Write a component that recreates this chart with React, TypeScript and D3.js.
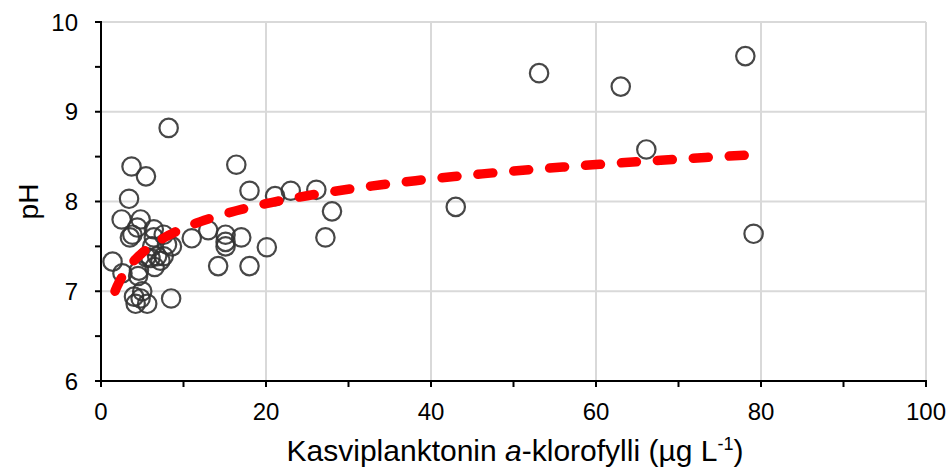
import React, { useRef, useEffect } from "react";
import * as d3 from "d3";

// chlorophyll a (µg/L) and pH
const chlA = [
  1.4, 2.5, 2.6, 3.4, 3.5, 3.7, 3.8, 4.4, 4.8, 4.6, 4.5, 5.45, 5.0, 4.0, 4.8,
  4.2, 5.6, 5.5, 6.0, 6.2, 6.4, 6.4, 6.5, 6.8, 7.2, 7.6, 7.6, 8.0, 8.2, 8.5,
  8.6, 11.0, 13.0, 14.2, 15.1, 15.1, 15.1, 16.4, 17.0, 18.0, 18.0, 20.1, 21.1,
  23.0, 26.1, 27.2, 28.0, 43.0, 53.1, 63.0, 66.1, 78.1, 79.1,
];
const pH = [
  7.33, 7.8, 7.2, 8.03, 7.6, 8.39, 7.63, 7.71, 7.8, 7.23, 7.17, 8.28, 7.0, 6.94,
  6.92, 6.86, 6.86, 7.38, 7.37, 7.5, 7.69, 7.6, 7.27, 7.39, 7.34, 7.39, 7.63,
  7.52, 8.82, 6.92, 7.5, 7.59, 7.68, 7.28, 7.63, 7.55, 7.5, 8.41, 7.6, 8.12,
  7.28, 7.49, 8.06, 8.12, 8.13, 7.6, 7.89, 7.94, 9.43, 9.28, 8.58, 9.62, 7.64,
];

// logarithmic trendline y = a ln(x) + b, drawn between these x values
const trendA = 0.396;
const trendB = 6.79;
const trendFrom = 1.7;
const trendTo = 79.1;

const xTicks = [0, 20, 40, 60, 80, 100];
const xMinor = [0, 10, 20, 30, 40, 50, 60, 70, 80, 90, 100];
const yTicks = [6, 7, 8, 9, 10];
const yMinor = [6, 6.5, 7, 7.5, 8, 8.5, 9, 9.5, 10];

const W = 949;
const H = 468;
const FONT = "'Liberation Sans', Arial, sans-serif";

const App: React.FC = () => {
  const svgRef = useRef<SVGSVGElement>(null);

  useEffect(() => {
    if (!svgRef.current) return;
    const svg = d3.select(svgRef.current);
    svg.selectAll("*").remove();

    const x = d3.scaleLinear().domain([0, 100]).range([101, 926]);
    const y = d3.scaleLinear().domain([6, 10]).range([381, 22]);

    // gridlines
    svg.append("g")
      .selectAll("line")
      .data(yTicks.filter((d) => d > 6))
      .join("line")
      .attr("x1", x(0))
      .attr("x2", x(100))
      .attr("y1", (d) => y(d))
      .attr("y2", (d) => y(d))
      .attr("stroke", "#d9d9d9")
      .attr("stroke-width", 2);

    svg.append("g")
      .selectAll("line")
      .data(xTicks.filter((d) => d > 0))
      .join("line")
      .attr("x1", (d) => x(d))
      .attr("x2", (d) => x(d))
      .attr("y1", y(6))
      .attr("y2", y(10))
      .attr("stroke", "#d9d9d9")
      .attr("stroke-width", 2);

    // axes
    const axisY = svg.append("g").attr("transform", `translate(${x(0)},0)`);
    axisY.append("line")
      .attr("y1", y(10) - 1)
      .attr("y2", y(6) + 1)
      .attr("stroke", "#000")
      .attr("stroke-width", 2);
    axisY.selectAll("line.tick")
      .data(yMinor)
      .join("line")
      .attr("class", "tick")
      .attr("x1", -6)
      .attr("x2", 0)
      .attr("y1", (d) => y(d))
      .attr("y2", (d) => y(d))
      .attr("stroke", "#000")
      .attr("stroke-width", 2);
    axisY.selectAll("text")
      .data(yTicks)
      .join("text")
      .attr("x", -23)
      .attr("y", (d) => y(d))
      .attr("dy", "0.36em")
      .attr("text-anchor", "end")
      .attr("font-family", FONT)
      .attr("font-size", 24)
      .attr("fill", "#000")
      .text((d) => d);

    const axisX = svg.append("g").attr("transform", `translate(0,${y(6)})`);
    axisX.append("line")
      .attr("x1", x(0) - 1)
      .attr("x2", x(100) + 1)
      .attr("stroke", "#000")
      .attr("stroke-width", 2);
    axisX.selectAll("line.tick")
      .data(xMinor)
      .join("line")
      .attr("class", "tick")
      .attr("x1", (d) => x(d))
      .attr("x2", (d) => x(d))
      .attr("y1", 0)
      .attr("y2", 6)
      .attr("stroke", "#000")
      .attr("stroke-width", 2);
    axisX.selectAll("text")
      .data(xTicks)
      .join("text")
      .attr("x", (d) => x(d))
      .attr("y", 39)
      .attr("text-anchor", "middle")
      .attr("font-family", FONT)
      .attr("font-size", 24)
      .attr("fill", "#000")
      .text((d) => d);

    // titles
    const xt = svg.append("text")
      .attr("x", 515)
      .attr("y", 461)
      .attr("text-anchor", "middle")
      .attr("font-family", FONT)
      .attr("font-size", 30)
      .attr("fill", "#000");
    xt.append("tspan").text("Kasviplanktonin ");
    xt.append("tspan").attr("font-style", "italic").text("a");
    xt.append("tspan").text("-klorofylli (µg L");
    xt.append("tspan").attr("font-size", 18).attr("dy", -11).text("-1");
    xt.append("tspan").attr("dy", 11).text(")");

    svg.append("text")
      .attr("transform", `translate(38,${y(8)}) rotate(-90)`)
      .attr("text-anchor", "middle")
      .attr("font-family", FONT)
      .attr("font-size", 28)
      .attr("fill", "#000")
      .text("pH");

    // points
    const pts = chlA.map((c, i) => ({ c, p: pH[i] }));
    svg.append("g")
      .selectAll("circle")
      .data(pts)
      .join("circle")
      .attr("cx", (d) => x(d.c))
      .attr("cy", (d) => y(d.p))
      .attr("r", 9.2)
      .attr("fill", "none")
      .attr("stroke", "#333")
      .attr("stroke-opacity", 0.9)
      .attr("stroke-width", 2.2);

    // trendline
    const trend = d3.range(0, 101).map((i) => {
      const c = trendFrom * Math.pow(trendTo / trendFrom, i / 100);
      return { c, p: trendA * Math.log(c) + trendB };
    });
    const line = d3.line<{ c: number; p: number }>()
      .x((d) => x(d.c))
      .y((d) => y(d.p));
    svg.append("path")
      .datum(trend)
      .attr("d", line)
      .attr("fill", "none")
      .attr("stroke", "#ff0000")
      .attr("stroke-width", 9.5)
      .attr("stroke-linecap", "round")
      .attr("stroke-dasharray", "15 21");

    return () => {
      svg.selectAll("*").remove();
    };
  }, []);

  return (
    <svg
      ref={svgRef}
      width={W}
      height={H}
      style={{ position: "absolute", left: 0, top: 0, background: "#fff" }}
    />
  );
};

export default App;
